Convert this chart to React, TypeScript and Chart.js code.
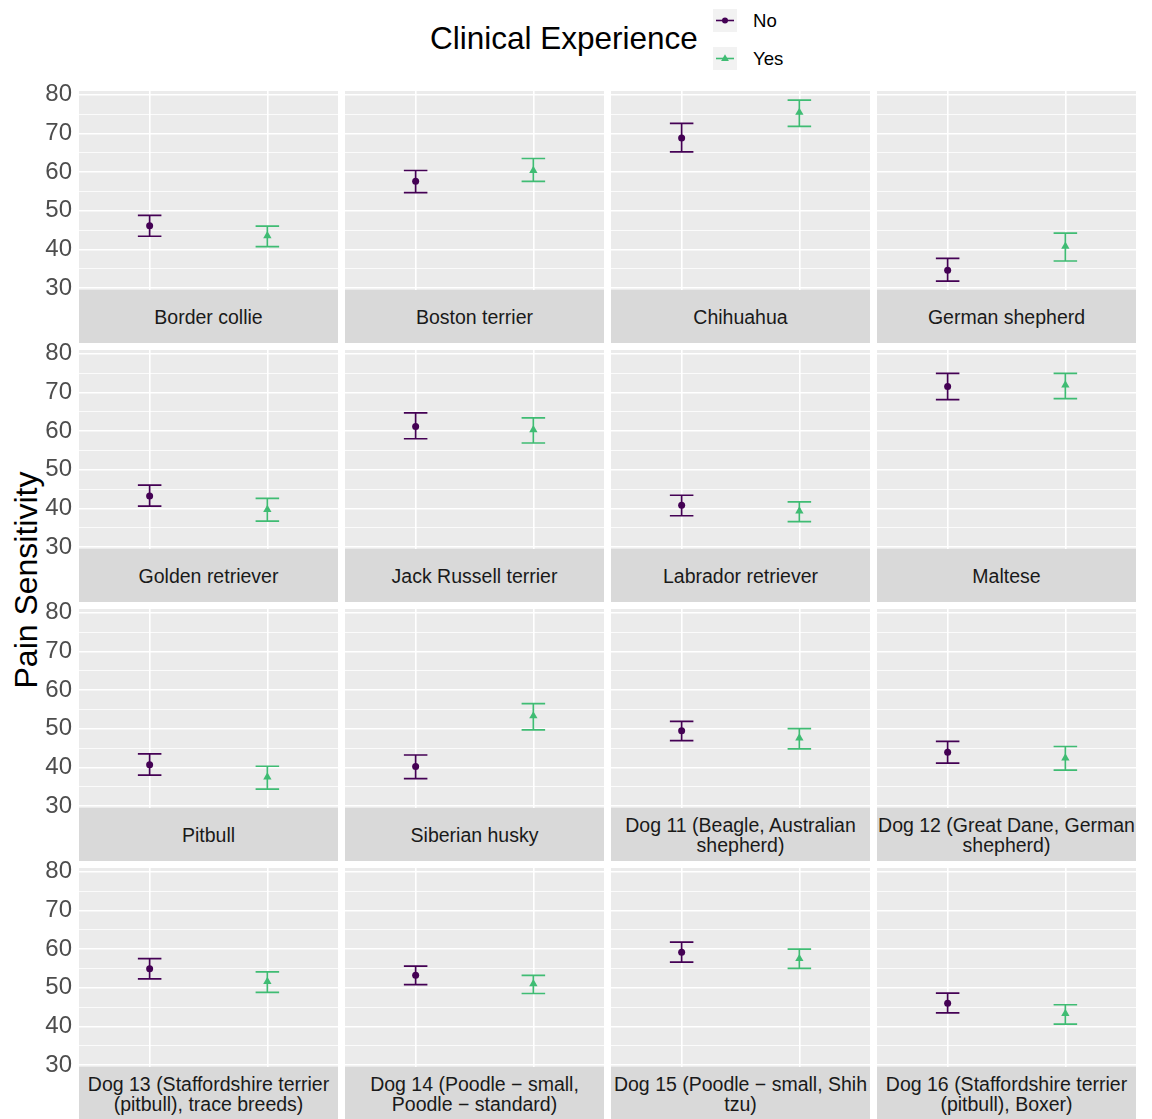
import React, { useEffect, useRef } from 'react';
import { Chart, registerables } from 'chart.js';

Chart.register(...registerables);

// ---------- data ----------
const panelLabels = [
  'Border collie',
  'Boston terrier',
  'Chihuahua',
  'German shepherd',
  'Golden retriever',
  'Jack Russell terrier',
  'Labrador retriever',
  'Maltese',
  'Pitbull',
  'Siberian husky',
  'Dog 11 (Beagle, Australian\nshepherd)',
  'Dog 12 (Great Dane, German\nshepherd)',
  'Dog 13 (Staffordshire terrier\n(pitbull), trace breeds)',
  'Dog 14 (Poodle − small,\nPoodle − standard)',
  'Dog 15 (Poodle − small, Shih\ntzu)',
  'Dog 16 (Staffordshire terrier\n(pitbull), Boxer)',
];

const groups = ['No', 'Yes'];
const groupX = [1, 2];

const noMean = [46.1, 57.6, 68.8, 34.6, 43.2, 61.2, 40.8, 71.5, 40.7, 40.2, 49.5, 43.9, 54.9, 53.2, 59.2, 46.0];
const noLow = [43.4, 54.7, 65.2, 31.8, 40.6, 58.0, 38.1, 68.1, 38.0, 37.1, 46.9, 41.1, 52.3, 50.8, 56.6, 43.5];
const noHigh = [48.8, 60.4, 72.6, 37.7, 46.0, 64.7, 43.4, 74.9, 43.5, 43.2, 51.9, 46.7, 57.5, 55.6, 61.8, 48.6];

const yesMean = [43.5, 60.4, 75.4, 40.8, 39.7, 60.3, 39.3, 71.9, 37.5, 53.3, 47.6, 42.4, 51.6, 51.0, 57.5, 43.3];
const yesLow = [40.7, 57.6, 71.8, 37.0, 36.7, 56.9, 36.6, 68.4, 34.4, 49.7, 44.8, 39.3, 48.8, 48.5, 55.0, 40.6];
const yesHigh = [46.0, 63.5, 78.6, 44.2, 42.6, 63.4, 41.7, 74.9, 40.3, 56.5, 50.0, 45.4, 54.1, 53.2, 60.0, 45.6];

const yMin = 29.5;
const yMax = 80.95;
const xMin = 0.4;
const xMax = 2.6;

// ---------- styling ----------
const FONT = '"Liberation Sans", Arial, Helvetica, sans-serif';
const COL_NO = '#440154';
const COL_YES = '#3fbc73';

const PLOT_X0 = 79;
const PLOT_Y0 = 91;
const COL_PITCH = 266;
const ROW_PITCH = 259;
const PLOT_W = 259;
const PLOT_H = 199;
const STRIP_H = 53;
const PADV = 16;

const bgPlugin = {
  id: 'panelBg',
  beforeDraw(chart: any) {
    const { ctx, chartArea: a } = chart;
    ctx.save();
    ctx.fillStyle = '#ebebeb';
    ctx.fillRect(a.left, a.top, a.right - a.left, a.bottom - a.top);
    ctx.restore();
  },
};

const errPlugin = {
  id: 'errBars',
  beforeDatasetsDraw(chart: any) {
    const xs = chart.scales.x;
    const ys = chart.scales.y;
    const ctx = chart.ctx;
    chart.data.datasets.forEach((ds: any) => {
      ctx.save();
      ctx.strokeStyle = ds.borderColor;
      ctx.lineWidth = 1.7;
      ds.data.forEach((p: any, j: number) => {
        const px = xs.getPixelForValue(p.x);
        const l = xs.getPixelForValue(p.x - 0.1);
        const r = xs.getPixelForValue(p.x + 0.1);
        const y1 = ys.getPixelForValue(ds.errLow[j]);
        const y2 = ys.getPixelForValue(ds.errHigh[j]);
        ctx.beginPath();
        ctx.moveTo(px, y1);
        ctx.lineTo(px, y2);
        ctx.moveTo(l, y1);
        ctx.lineTo(r, y1);
        ctx.moveTo(l, y2);
        ctx.lineTo(r, y2);
        ctx.stroke();
      });
      ctx.restore();
    });
  },
};

function Panel({ i }: { i: number }) {
  const ref = useRef<HTMLCanvasElement>(null);
  const r = Math.floor(i / 4);
  const c = i % 4;
  const plotLeft = PLOT_X0 + c * COL_PITCH;
  const plotTop = PLOT_Y0 + r * ROW_PITCH;
  const axisW = c === 0 ? plotLeft : 0;
  const canvasLeft = plotLeft - axisW;
  const w = PLOT_W + axisW;
  const h = PLOT_H + 2 * PADV;

  useEffect(() => {
    const chart = new Chart(ref.current as HTMLCanvasElement, {
      type: 'scatter',
      data: {
        datasets: [
          {
            label: groups[0],
            data: [{ x: groupX[0], y: noMean[i] }],
            errLow: [noLow[i]],
            errHigh: [noHigh[i]],
            borderColor: COL_NO,
            backgroundColor: COL_NO,
            pointStyle: 'circle',
            pointRadius: 3.5,
            pointBorderWidth: 0,
          } as any,
          {
            label: groups[1],
            data: [{ x: groupX[1], y: yesMean[i] }],
            errLow: [yesLow[i]],
            errHigh: [yesHigh[i]],
            borderColor: COL_YES,
            backgroundColor: COL_YES,
            pointStyle: 'triangle',
            pointRadius: 4.8,
            pointBorderWidth: 0,
          } as any,
        ],
      },
      options: {
        animation: false,
        responsive: false,
        events: [],
        layout: { autoPadding: false, padding: { top: PADV, bottom: PADV, left: 0, right: 0 } },
        plugins: { legend: { display: false }, tooltip: { enabled: false }, title: { display: false } },
        scales: {
          x: {
            type: 'linear',
            min: xMin,
            max: xMax,
            afterBuildTicks: (scale: any) => {
              scale.ticks = groupX.map((v) => ({ value: v }));
            },
            afterFit: (scale: any) => {
              scale.height = 0;
              scale.paddingLeft = 0;
              scale.paddingRight = 0;
              scale.paddingTop = 0;
              scale.paddingBottom = 0;
            },
            ticks: { display: false },
            grid: { color: '#ffffff', lineWidth: 1.6, drawTicks: false },
            border: { display: false },
          },
          y: {
            type: 'linear',
            min: yMin,
            max: yMax,
            afterFit: (scale: any) => {
              scale.width = axisW;
              scale.paddingTop = 0;
              scale.paddingBottom = 0;
              scale.paddingLeft = 0;
              scale.paddingRight = 0;
            },
            ticks: {
              display: c === 0,
              stepSize: 5,
              includeBounds: false,
              autoSkip: false,
              padding: 7,
              color: '#4d4d4d',
              font: { family: FONT, size: 24 },
              callback: (v: any) => (Number(v) % 10 === 0 ? String(v) : ''),
            },
            grid: {
              color: '#ffffff',
              drawTicks: false,
              lineWidth: (ctx: any) => (ctx.tick && ctx.tick.value % 10 === 0 ? 1.6 : 0.8),
            },
            border: { display: false },
          },
        },
      } as any,
      plugins: [bgPlugin, errPlugin],
    });
    return () => chart.destroy();
  }, []);

  const lines = panelLabels[i].split('\n');
  return (
    <>
      <canvas
        ref={ref}
        width={w}
        height={h}
        style={{ position: 'absolute', left: canvasLeft, top: plotTop - PADV, width: w, height: h }}
      />
      <div
        style={{
          position: 'absolute',
          left: plotLeft,
          top: plotTop + PLOT_H,
          width: PLOT_W,
          height: STRIP_H,
          background: '#d9d9d9',
          color: '#1a1a1a',
          fontFamily: FONT,
          fontSize: 19.5,
          lineHeight: '20px',
          display: 'flex',
          flexDirection: 'column',
          alignItems: 'center',
          justifyContent: 'center',
          textAlign: 'center',
          whiteSpace: 'nowrap',
          overflow: 'visible',
        }}
      >
        {lines.map((t, k) => (
          <div key={k}>{t}</div>
        ))}
      </div>
    </>
  );
}

function LegendKey({ top, color, shape }: { top: number; color: string; shape: 'circle' | 'triangle' }) {
  return (
    <svg
      width={24}
      height={23}
      style={{ position: 'absolute', left: 713, top, background: '#f2f2f2' }}
    >
      <line x1={3} y1={11.5} x2={21} y2={11.5} stroke={color} strokeWidth={1.6} />
      {shape === 'circle' ? (
        <circle cx={12} cy={11.5} r={3} fill={color} />
      ) : (
        <polygon points="12,7.3 15.9,14 8.1,14" fill={color} />
      )}
    </svg>
  );
}

export default function App() {
  return (
    <div
      style={{
        position: 'absolute',
        left: 0,
        top: 0,
        width: 1152,
        height: 1119,
        background: '#ffffff',
        overflow: 'hidden',
        fontFamily: FONT,
      }}
    >
      <div
        style={{
          position: 'absolute',
          left: 430,
          top: 22,
          fontSize: 31.5,
          lineHeight: '32px',
          color: '#000',
          whiteSpace: 'nowrap',
        }}
      >
        Clinical Experience
      </div>
      <LegendKey top={9} color={COL_NO} shape="circle" />
      <LegendKey top={47} color={COL_YES} shape="triangle" />
      <div style={{ position: 'absolute', left: 753, top: 10.5, fontSize: 18.6, lineHeight: '19px', color: '#000' }}>
        {groups[0]}
      </div>
      <div style={{ position: 'absolute', left: 753, top: 48.8, fontSize: 18.6, lineHeight: '19px', color: '#000' }}>
        {groups[1]}
      </div>
      <div
        style={{
          position: 'absolute',
          left: 26 - 150,
          top: 580 - 16,
          width: 300,
          height: 32,
          fontSize: 32,
          lineHeight: '32px',
          textAlign: 'center',
          color: '#000',
          transform: 'rotate(-90deg)',
          whiteSpace: 'nowrap',
        }}
      >
        Pain Sensitivity
      </div>
      {panelLabels.map((_, i) => (
        <Panel key={i} i={i} />
      ))}
    </div>
  );
}
